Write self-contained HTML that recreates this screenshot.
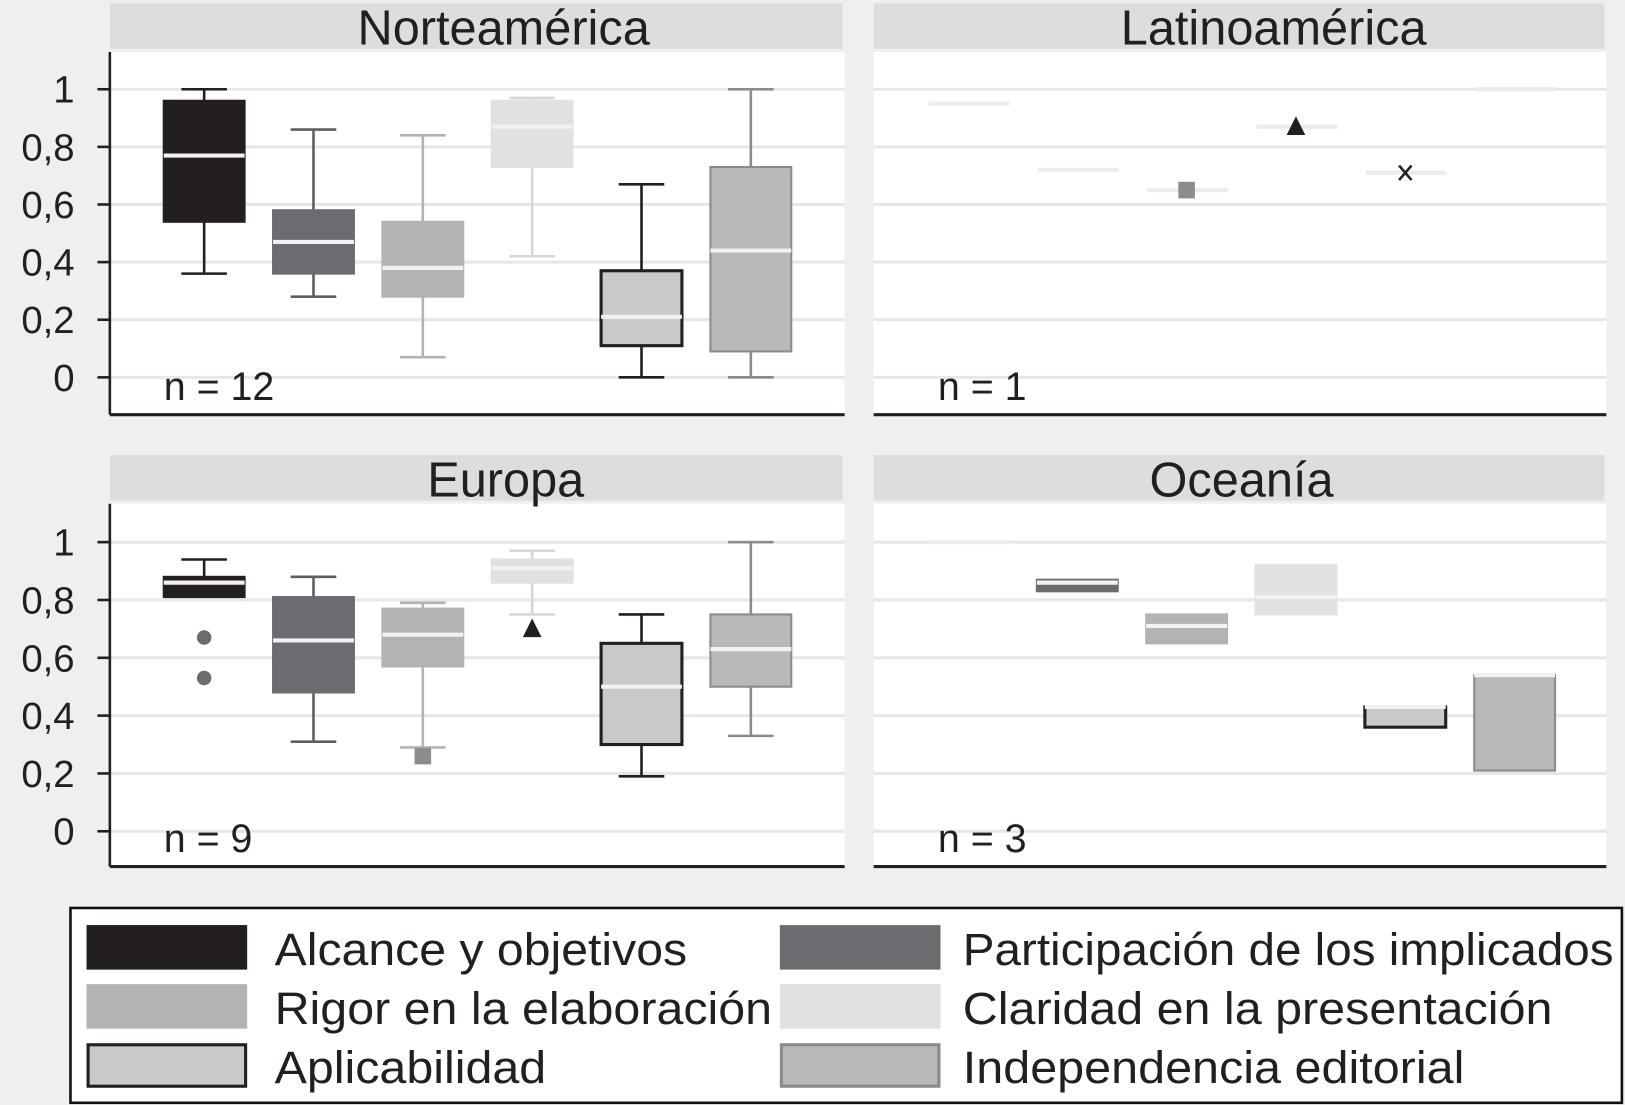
<!DOCTYPE html>
<html><head><meta charset="utf-8"><style>
html,body{margin:0;padding:0;background:#eef0ef;}
svg{display:block;font-family:"Liberation Sans",Arial,sans-serif;}
</style></head><body>
<svg id="chart" width="1625" height="1105" viewBox="0 0 1568 1066" xmlns="http://www.w3.org/2000/svg">
<rect x="0" y="0" width="1568" height="1066" fill="#eef0ef"/>
<g id="plots"></g>
<g id="legend">
<rect x="68" y="876" width="1497" height="188" fill="#fff" stroke="#111" stroke-width="2.5"/>
</g>
</svg>
<script>
const categories = ["Alcance y objetivos","Participación de los implicados","Rigor en la elaboración","Claridad en la presentación","Aplicabilidad","Independencia editorial"];
const regions = ["Norteamérica","Latinoamérica","Europa","Oceanía"];
const nCounts = [12,1,9,3];
const yTicks = [0,0.2,0.4,0.6,0.8,1];
const yTickLabels = ["0","0,2","0,4","0,6","0,8","1"];
// per region: [whiskerLow, q1, median, q3, whiskerHigh] per category
const naStats = [[0.36,0.54,0.77,0.96,1.0],[0.28,0.36,0.47,0.58,0.86],[0.07,0.28,0.38,0.54,0.84],[0.42,0.73,0.87,0.96,0.97],[0.0,0.11,0.21,0.37,0.67],[0.0,0.09,0.44,0.73,1.0]];
const laStats = [[0.95,0.95,0.95,0.95,0.95],[0.72,0.72,0.72,0.72,0.72],[0.65,0.65,0.65,0.65,0.65],[0.87,0.87,0.87,0.87,0.87],[0.71,0.71,0.71,0.71,0.71],[1.0,1.0,1.0,1.0,1.0]];
const euStats = [[0.81,0.81,0.86,0.88,0.94],[0.31,0.48,0.66,0.81,0.88],[0.29,0.57,0.68,0.77,0.79],[0.75,0.86,0.91,0.94,0.97],[0.19,0.30,0.50,0.65,0.75],[0.33,0.50,0.63,0.75,1.0]];
const ocStats = [[1.0,1.0,1.0,1.0,1.0],[0.83,0.83,0.86,0.87,0.87],[0.65,0.65,0.71,0.75,0.75],[0.75,0.75,0.81,0.92,0.92],[0.36,0.36,0.43,0.43,0.43],[0.21,0.21,0.54,0.54,0.54]];
const allStats = [naStats,laStats,euStats,ocStats];
// outliers: [regionIndex, categoryIndex, value]
const outliers = [[1,2,0.65],[1,3,0.87],[1,4,0.71],[2,0,0.67],[2,0,0.53],[2,2,0.26],[2,3,0.70]];

const fills = ["#231f20","#6b6c6f","#b1b3b5","#e0e1e2","#c8c9cb","#b7b8ba"];
const strokes = ["#231f20","#6b6c6f","#b1b3b5","#e0e1e2","#231f20","#8a8b8d"];
const whisk = ["#231f20","#5d5e61","#b1b3b5","#d6d7d8","#231f20","#8a8b8d"];
const markerShape = ["circle","circle","square","triangle","x","circle"];
const titleCenters = [486,1229,488,1198];
const legendTextLen = [398,628,480,569,262,484];

const NS="http://www.w3.org/2000/svg";
function mk(tag,attrs,parent){const e=document.createElementNS(NS,tag);for(const k in attrs)e.setAttribute(k,attrs[k]);parent.appendChild(e);return e;}
const plots=document.getElementById('plots');
const panels=[{x0:106,x1:815,top:3,y0:364,y1:86,axis:true},{x0:843,x1:1550,top:3,y0:364,y1:86,axis:false},
{x0:106,x1:815,top:439,y0:802,y1:523,axis:true},{x0:843,x1:1550,top:439,y0:802,y1:523,axis:false}];
panels.forEach((p,ri)=>{
  const g=mk('g',{},plots);
  
  
  const ys=v=>p.y0+(p.y1-p.y0)*v;
  const xs=i=>p.x0+91+i*105.5;
  const hdr=mk('rect',{x:p.x0,y:p.top,width:p.x1-p.x0-2,height:44,fill:'#dcdddf'},g);
  
  
  const pb=p.top+47, bottom=p.top+397;
  mk('rect',{x:p.x0,y:pb,width:p.x1-p.x0,height:bottom-pb,fill:'#fff'},g);
  const t=mk('text',{x:titleCenters[ri],y:p.top+40,'font-size':47,'text-anchor':'middle',fill:'#231f20'},g);
  t.textContent=regions[ri];
  
  
  yTicks.forEach((v,i)=>{
    mk('line',{x1:p.x0,x2:p.x1,y1:ys(v),y2:ys(v),stroke:'#e6e7e8','stroke-width':3},g);
    if(p.axis){
      mk('line',{x1:p.x0-12,x2:p.x0,y1:ys(v),y2:ys(v),stroke:'#231f20','stroke-width':2.5},g);
      const tl=mk('text',{x:72,y:ys(v)+13,'font-size':37,'text-anchor':'end',fill:'#231f20'},g);
      tl.textContent=yTickLabels[i];
      
      
    }
  });
  if(p.axis) mk('line',{x1:p.x0,x2:p.x0,y1:pb,y2:bottom,stroke:'#231f20','stroke-width':2.5},g);
  mk('line',{x1:p.x0,x2:p.x1,y1:bottom,y2:bottom,stroke:'#231f20','stroke-width':3},g);
  const nt=mk('text',{x:p.x0+(ri%2?62:52),y:bottom-14,'font-size':38,fill:'#231f20'},g);
  nt.textContent='n = '+nCounts[ri];
  
  
  allStats[ri].forEach((s,ci)=>{
    const cx=xs(ci), w=78;
    const bg=mk('g',{},g);
    
    
    const [lo,q1,md,q3,hi]=s;
    if(hi>q3){mk('line',{x1:cx,x2:cx,y1:ys(hi),y2:ys(q3),stroke:whisk[ci],'stroke-width':2.5},bg);
      mk('line',{x1:cx-22,x2:cx+22,y1:ys(hi),y2:ys(hi),stroke:whisk[ci],'stroke-width':2.5},bg);}
    if(lo<q1){mk('line',{x1:cx,x2:cx,y1:ys(q1),y2:ys(lo),stroke:whisk[ci],'stroke-width':2.5},bg);
      mk('line',{x1:cx-22,x2:cx+22,y1:ys(lo),y2:ys(lo),stroke:whisk[ci],'stroke-width':2.5},bg);}
    if(q3>q1){
      mk('rect',{x:cx-w/2,y:ys(q3),width:w,height:ys(q1)-ys(q3),fill:fills[ci],stroke:strokes[ci],'stroke-width':ci==4?3:2},bg);
      mk('line',{x1:cx-w/2,x2:cx+w/2,y1:ys(md),y2:ys(md),stroke:'#f2f2f2','stroke-width':4},bg);
    } else {
      mk('line',{x1:cx-w/2+1,x2:cx+w/2+1,y1:ys(md),y2:ys(md),stroke:'#ececec','stroke-width':4},bg);
    }
  });
});
outliers.forEach(o=>{
  const [ri,ci,v]=o; const p=panels[ri];
  const ys=p.y0+(p.y1-p.y0)*v, cx=p.x0+91+ci*105.5;
  const sh=markerShape[ci]; let e;
  if(sh==='circle') e=mk('circle',{cx:cx,cy:ys,r:7,fill:'#6b6c6f'},plots);
  else if(sh==='square') e=mk('rect',{x:cx-8,y:ys-8,width:16,height:16,fill:'#8c8d8f'},plots);
  else if(sh==='triangle') e=mk('polygon',{points:`${cx},${ys-10} ${cx-9},${ys+8} ${cx+9},${ys+8}`,fill:'#231f20'},plots);
  else e=mk('path',{d:`M${cx-6},${ys-7}L${cx+6},${ys+7}M${cx+6},${ys-7}L${cx-6},${ys+7}`,stroke:'#231f20','stroke-width':2.5},plots);
  
  
});
const lg=document.getElementById('legend');
categories.forEach((c,i)=>{
  const col=i%2,row=Math.floor(i/2);
  const sx=col?753:84, sy=893+row*57;
  const ent=mk('g',{},lg);
  
  
  mk('rect',{x:sx+1,y:sy+1,width:152,height:40,fill:fills[i],stroke:strokes[i],'stroke-width':3},ent);
  const tx=mk('text',{x:col?929:265,y:sy+38,'font-size':44,fill:'#231f20',textLength:legendTextLen[i],lengthAdjust:'spacingAndGlyphs'},ent);
  tx.textContent=c;
});
</script>
</body></html>
